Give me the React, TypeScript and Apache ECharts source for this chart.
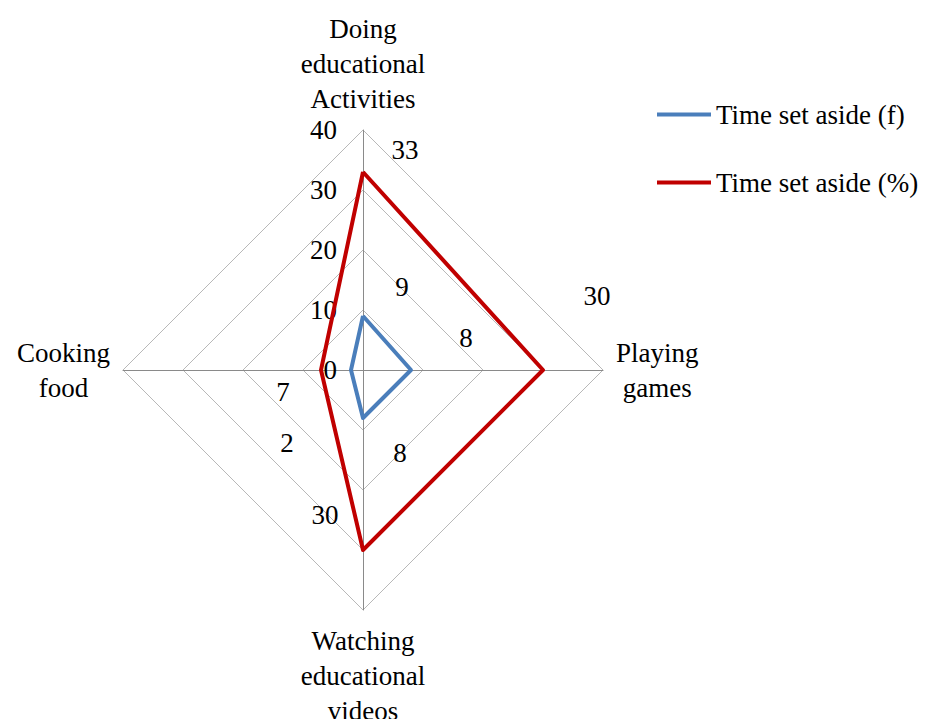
import React, { useEffect, useRef } from "react";
import * as echarts from "echarts";

// ECharts radar order: top, then counter-clockwise (left, bottom, right)
const categories = [
  "Doing\neducational\nActivities",
  "Cooking\nfood",
  "Watching\neducational\nvideos",
  "Playing\ngames",
];
const timeSetAsideF = [9, 2, 8, 8];
const timeSetAsidePct = [33, 7, 30, 30];
const seriesNames = ["Time set aside (f)", "Time set aside (%)"];
const axisMin = 0;
const axisMax = 40;

// label shifts (px) per indicator, matching where the labels sit in the original
const fLabelShift = [[39, -29], [-64, 73], [37, 35], [55, -32]];
const pctLabelShift = [[42, -22], [-38, 22], [-38, -35], [54, -74]];

const FONT = "'Liberation Serif', 'Times New Roman', serif";
const FS = 27;

function richFromShifts(shifts: number[][]) {
  const rich: Record<string, any> = {};
  shifts.forEach(([dx, dy], i) => {
    rich["p" + i] = {
      fontFamily: FONT,
      fontSize: FS,
      color: "#000",
      padding: [dy > 0 ? 2 * dy : 0, dx < 0 ? -2 * dx : 0, dy < 0 ? -2 * dy : 0, dx > 0 ? 2 * dx : 0],
    };
  });
  return rich;
}

function makeSeries(name: string, values: number[], color: string, shifts: number[][]) {
  return {
    type: "radar",
    name,
    symbol: "circle",
    symbolSize: 1,
    itemStyle: { color },
    lineStyle: { color, width: 4 },
    label: {
      show: true,
      position: "inside",
      formatter: (p: any) => {
        const i = p.dimensionIndex;
        const v = Array.isArray(p.value) ? p.value[i] : p.value;
        return `{p${i}|${v}}`;
      },
      rich: richFromShifts(shifts),
    },
    data: [{ name, value: values }],
  };
}

export default function App() {
  const ref = useRef<HTMLDivElement>(null);
  useEffect(() => {
    if (!ref.current) return;
    const chart = echarts.init(ref.current, null, { renderer: "svg" });
    chart.setOption({
      animation: false,
      backgroundColor: "#fff",
      textStyle: { fontFamily: FONT },
      legend: {
        orient: "vertical",
        left: 652,
        top: 96,
        itemWidth: 54,
        itemHeight: 4,
        itemGap: 41,
        icon: "rect",
        textStyle: { fontFamily: FONT, fontSize: FS, color: "#000" },
        data: seriesNames,
      },
      radar: {
        center: [363, 370],
        radius: 240,
        shape: "polygon",
        startAngle: 90,
        splitNumber: 4,
        axisName: {
          color: "#000",
          fontFamily: FONT,
          fontSize: FS,
          lineHeight: 35,
          formatter: (name: string) =>
            name
              .split("\n")
              .map((s) => `{c|${s}}`)
              .join("\n"),
          rich: {
            c: { align: "center", fontFamily: FONT, fontSize: FS, lineHeight: 35, color: "#000" },
          },
        },
        nameGap: 13,
        axisLine: { lineStyle: { color: "#8a8a8a", width: 1 } },
        splitLine: { lineStyle: { color: "#b8b8b8", width: 1 } },
        splitArea: { show: false },
        axisTick: { show: false },
        axisLabel: { show: false },
        indicator: categories.map((c, i) =>
          i === 0
            ? {
                name: c,
                min: axisMin,
                max: axisMax,
                axisLabel: {
                  show: true,
                  margin: 26,
                  color: "#000",
                  fontFamily: FONT,
                  fontSize: FS,
                },
              }
            : { name: c, min: axisMin, max: axisMax }
        ),
      },
      series: [
        makeSeries(seriesNames[0], timeSetAsideF, "#4A7EBB", fLabelShift),
        makeSeries(seriesNames[1], timeSetAsidePct, "#C00000", pctLabelShift),
      ],
    });
    return () => chart.dispose();
  }, []);
  return (
    <div
      ref={ref}
      style={{ position: "fixed", left: 0, top: 0, width: 928, height: 719 }}
    />
  );
}
